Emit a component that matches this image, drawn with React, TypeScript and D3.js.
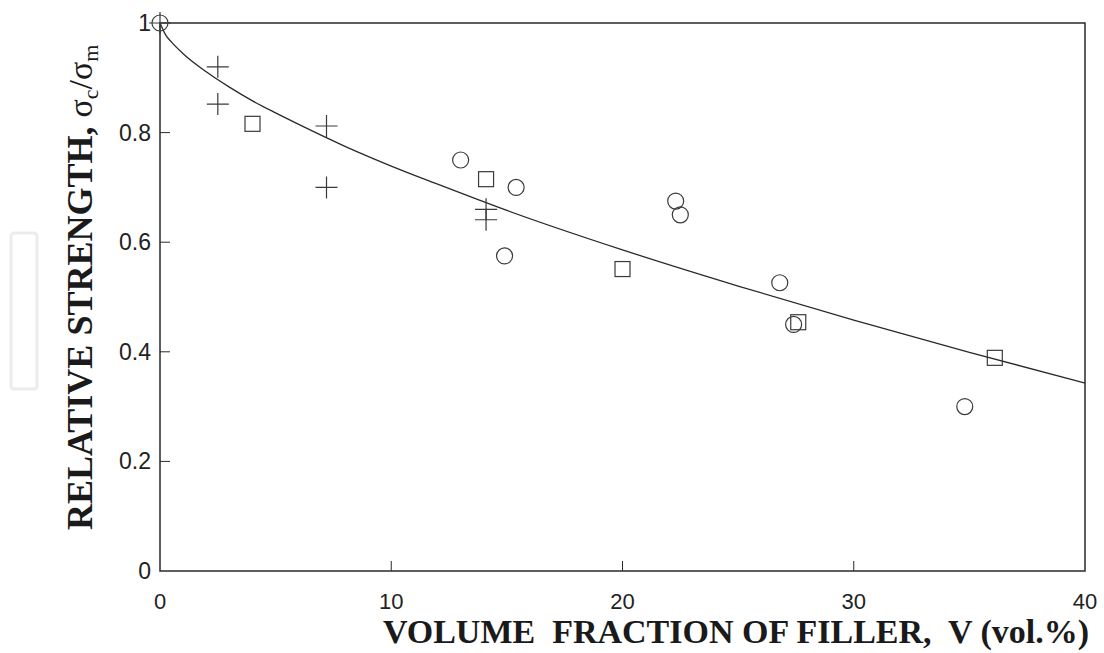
import React, { useEffect, useRef } from 'react';
import * as d3 from 'd3';

// volume fraction (vol.%) vs relative strength
const plusX = [0, 2.5, 2.5, 7.2, 7.2, 14.1, 14.1];
const plusY = [1, 0.92, 0.852, 0.812, 0.7, 0.66, 0.641];

const squareX = [4.0, 14.1, 20.0, 27.6, 36.1];
const squareY = [0.816, 0.715, 0.551, 0.454, 0.389];

const circleX = [0, 13.0, 15.4, 14.9, 22.3, 22.5, 26.8, 27.4, 34.8];
const circleY = [1, 0.75, 0.7, 0.575, 0.675, 0.65, 0.526, 0.45, 0.3];

// fitted curve, read at a handful of V values
const curveX = [0, 0.25, 0.5, 1, 2, 3, 4, 5, 6, 8, 10, 12, 15, 20, 25, 30, 35, 40];
const curveY = [1, 0.978, 0.965, 0.944, 0.911, 0.883, 0.858, 0.836, 0.815, 0.775, 0.739, 0.706, 0.658, 0.586, 0.52, 0.458, 0.399, 0.343];

const xTicks = [0, 10, 20, 30, 40];
const yTicks = [0, 0.2, 0.4, 0.6, 0.8, 1];

const W = 1104;
const H = 653;

const App = () => {
  const svgRef = useRef<SVGSVGElement>(null);

  useEffect(() => {
    const svg = d3.select(svgRef.current);
    svg.selectAll('*').remove();

    const margin = { top: 23, right: 19, bottom: 82, left: 160 };
    const x = d3.scaleLinear().domain([0, 40]).range([margin.left, W - margin.right]);
    const y = d3.scaleLinear().domain([0, 1]).range([H - margin.bottom, margin.top]);
    const ink = '#2a2a2a';

    svg.append('rect').attr('width', W).attr('height', H).attr('fill', '#fff');

    // faint box left of the plot (scan artefact)
    svg.append('rect')
      .attr('x', 11).attr('y', 233).attr('width', 26).attr('height', 156)
      .attr('rx', 3)
      .attr('fill', 'none').attr('stroke', '#ececec').attr('stroke-width', 3);

    // frame
    svg.append('rect')
      .attr('x', x(0)).attr('y', y(1))
      .attr('width', x(40) - x(0)).attr('height', y(0) - y(1))
      .attr('fill', 'none').attr('stroke', ink).attr('stroke-width', 1.5);

    // inward ticks
    const tickLen = 10;
    svg.append('g').selectAll('line')
      .data(xTicks.slice(1, -1))
      .join('line')
      .attr('x1', d => x(d)).attr('x2', d => x(d))
      .attr('y1', y(0)).attr('y2', y(0) - tickLen)
      .attr('stroke', ink).attr('stroke-width', 1);
    svg.append('g').selectAll('line')
      .data(yTicks.slice(1, -1))
      .join('line')
      .attr('x1', x(0)).attr('x2', x(0) + tickLen)
      .attr('y1', d => y(d)).attr('y2', d => y(d))
      .attr('stroke', ink).attr('stroke-width', 1);

    // tick labels
    svg.append('g').selectAll('text')
      .data(xTicks)
      .join('text')
      .attr('x', d => x(d))
      .attr('y', y(0) + 38)
      .attr('text-anchor', 'middle')
      .attr('font-family', '"Liberation Sans", Arial, sans-serif')
      .attr('font-size', 22)
      .attr('fill', '#222')
      .text(d => String(d));
    svg.append('g').selectAll('text')
      .data(yTicks)
      .join('text')
      .attr('x', x(0) - 9)
      .attr('y', d => y(d) + 8)
      .attr('text-anchor', 'end')
      .attr('font-family', '"Liberation Sans", Arial, sans-serif')
      .attr('font-size', 23)
      .attr('fill', '#222')
      .text(d => String(d));

    // fitted curve
    const line = d3.line<number>()
      .x((d, i) => x(curveX[i]))
      .y(d => y(d))
      .curve(d3.curveMonotoneX);
    svg.append('path')
      .datum(curveY)
      .attr('fill', 'none')
      .attr('stroke', ink)
      .attr('stroke-width', 1.3)
      .attr('d', line);

    const mark = '#3a3a3a';

    // circles
    svg.append('g').selectAll('circle')
      .data(circleX)
      .join('circle')
      .attr('cx', d => x(d))
      .attr('cy', (d, i) => y(circleY[i]))
      .attr('r', 8)
      .attr('fill', 'none').attr('stroke', mark).attr('stroke-width', 1.2);

    // squares
    const s = 15;
    svg.append('g').selectAll('rect')
      .data(squareX)
      .join('rect')
      .attr('x', d => x(d) - s / 2)
      .attr('y', (d, i) => y(squareY[i]) - s / 2)
      .attr('width', s).attr('height', s)
      .attr('fill', 'none').attr('stroke', mark).attr('stroke-width', 1.2);

    // pluses
    const p = 11;
    svg.append('g').selectAll('path')
      .data(plusX)
      .join('path')
      .attr('d', (d, i) => {
        const cx = x(d);
        const cy = y(plusY[i]);
        return `M${cx - p},${cy}H${cx + p}M${cx},${cy - p}V${cy + p}`;
      })
      .attr('fill', 'none').attr('stroke', mark).attr('stroke-width', 1.2);

    // axis titles
    svg.append('text')
      .attr('x', 1089)
      .attr('y', 643)
      .attr('text-anchor', 'end')
      .attr('font-family', '"Liberation Serif", "Times New Roman", serif')
      .attr('font-weight', 'bold')
      .attr('font-size', 34)
      .attr('fill', '#1a1a1a')
      .style('white-space', 'pre')
      .text('VOLUME  FRACTION OF FILLER,  V (vol.%)');

    const yt = svg.append('text')
      .attr('transform', 'translate(92,530) rotate(-90)')
      .attr('font-family', '"Liberation Serif", "Times New Roman", serif')
      .attr('fill', '#1a1a1a')
      .style('white-space', 'pre');
    yt.append('tspan')
      .attr('font-weight', 'bold').attr('font-size', 36)
      .text('RELATIVE STRENGTH, ');
    yt.append('tspan')
      .attr('font-size', 34)
      .text('σ');
    yt.append('tspan')
      .attr('font-size', 22).attr('dy', 6)
      .text('c');
    yt.append('tspan')
      .attr('font-size', 34).attr('dy', -6)
      .text('/σ');
    yt.append('tspan')
      .attr('font-size', 22).attr('dy', 6)
      .text('m');
  }, []);

  return (
    <svg
      ref={svgRef}
      width={W}
      height={H}
      style={{ position: 'absolute', left: 0, top: 0 }}
    />
  );
};

export default App;
